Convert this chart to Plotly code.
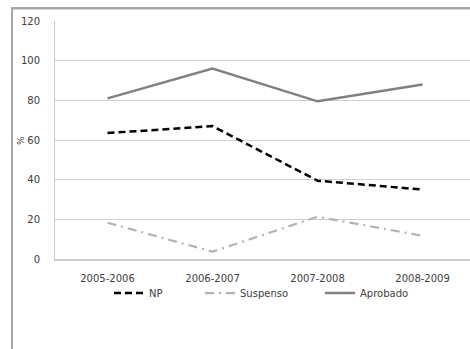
import plotly.graph_objects as go

categories = ["2005-2006", "2006-2007", "2007-2008", "2008-2009"]
np_values = [63.5, 67, 39.5, 35]
suspenso_values = [18.3, 3.7, 21.3, 11.7]
aprobado_values = [81, 96, 79.5, 88]
y_ticks = [0, 20, 40, 60, 80, 100, 120]

fig = go.Figure()
fig.add_trace(go.Scatter(x=categories, y=np_values, name="NP", mode="lines", legend="legend",
                         line=dict(color="#000000", width=2.5, dash="7px,4px")))
fig.add_trace(go.Scatter(x=categories, y=suspenso_values, name="Suspenso", mode="lines", legend="legend2",
                         line=dict(color="#b3b3b3", width=2.2, dash="9px,5px,2px,5px")))
fig.add_trace(go.Scatter(x=categories, y=aprobado_values, name="Aprobado", mode="lines", legend="legend3",
                         line=dict(color="#808080", width=2.5)))

FONT = "DejaVu Sans"
leg_common = dict(orientation="h", y=-0.143, xanchor="left", yanchor="middle",
                  font=dict(family=FONT, size=10, color="#404040"), bgcolor="rgba(0,0,0,0)")

def py(px):
    """paper y for a pixel row (plot area: top 21, bottom 259)"""
    return (259 - px) / 238

LEFT0 = (11 - 55) / 415
LEFT1 = (13 - 55) / 415

fig.update_layout(
    width=470, height=349,
    margin=dict(l=55, r=0, t=21, b=90, autoexpand=False),
    paper_bgcolor="white", plot_bgcolor="white",
    font=dict(family=FONT, size=10, color="#404040"),
    showlegend=True,
    legend=dict(x=(109 - 55) / 415, **leg_common),
    legend2=dict(x=(200 - 55) / 415, **leg_common),
    legend3=dict(x=(320 - 55) / 415, **leg_common),
    xaxis=dict(type="category", range=[-0.5, 3.452], showgrid=False,
               showline=True, linecolor="#cccccc", linewidth=2, ticks="",
               ticklabelstandoff=9, tickfont=dict(size=10)),
    yaxis=dict(range=[0, 120], tickvals=y_ticks, showgrid=True, gridcolor="#d0d0d0",
               gridwidth=1, showline=True, linecolor="#cccccc", linewidth=1,
               zeroline=False, ticks="", ticklen=0, ticklabelstandoff=12,
               tickfont=dict(size=10)),
    shapes=[
        dict(type="rect", xref="paper", yref="paper", layer="above",
             x0=LEFT0, x1=1.05, y0=py(9.5), y1=py(7),
             fillcolor="#a8a8a8", line=dict(width=0)),
        dict(type="rect", xref="paper", yref="paper", layer="above",
             x0=LEFT0, x1=LEFT1, y0=py(352), y1=py(7),
             fillcolor="#a8a8a8", line=dict(width=0)),
    ],
    annotations=[
        dict(text="%", xref="paper", yref="paper", x=(21-55)/415, y=py(141),
             xanchor="center", yanchor="middle",
             showarrow=False, textangle=-90, font=dict(size=9, color="#404040")),
    ],
)

fig.write_html("out.html", config={"displayModeBar": False},
               post_script="document.body.style.margin='0';document.body.style.padding='0';")
